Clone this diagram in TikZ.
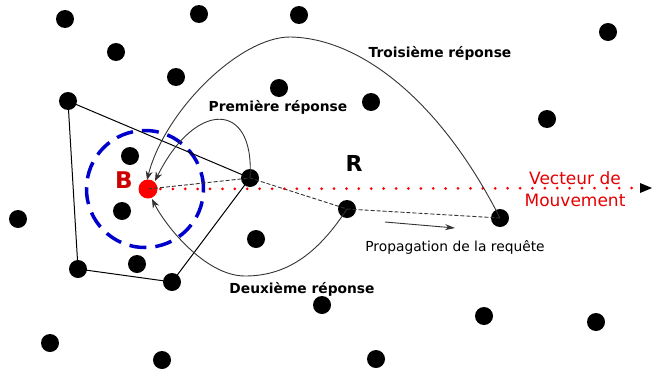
\documentclass[tikz,border=0pt]{standalone}
\usepackage{fontspec}
\setmainfont{DejaVu Sans}
\usetikzlibrary{arrows.meta}
\begin{document}
\begin{tikzpicture}[x=1pt,y=-1pt,
  dot/.style={circle,fill=black,minimum size=18pt,inner sep=0pt},
  bdot/.style={circle,fill=red,minimum size=19pt,inner sep=0pt},
  rep/.style={font=\fontsize{13.8}{16}\selectfont\bfseries},
  resp/.style={draw=black!80,line width=0.9pt,-{Stealth[length=9pt,width=7pt]}},
  poly/.style={draw=black,line width=1pt},
  dsh/.style={draw=black!80,line width=0.9pt,dash pattern=on 4pt off 2pt}]
\useasboundingbox (0,0) rectangle (652,372);
% background dots
\foreach \n/\x/\y in {a/65/19,b/199/14,c/299/15,d/608/32,e/116/52,f/176/77,g/279/88,h/371/102,i/547/119,j/130/156,k/18/219,l/122/211,m/256/239,n/137/264,o/322/305,p/484/316,q/596/322,r/50/343,s/162/360,t/376/359}
  \node[dot] (\n) at (\x,\y) {};
% polygon nodes
\node[dot] (p1) at (68,101) {};
\node[dot] (p2) at (250,178) {};
\node[dot] (p3) at (172,282) {};
\node[dot] (p4) at (78,269) {};
\node[dot] (r1) at (347,209) {};
\node[dot] (r2) at (500,218) {};
% blue circle
\node[circle,draw=blue!80!black,line width=3.5pt,dash pattern=on 17pt off 9pt,minimum size=117pt,inner sep=0pt] (zone) at (145,189) {};
\node[bdot] (B) at (148,189) {};
\draw[poly] (p1.center) -- (p2.center) -- (p3.center) -- (p4.center) -- cycle;
\draw[dsh] (B.center) -- (p2.center) -- (r1.center) -- (r2.center);
% movement vector
\coordinate (vend) at (641,188);
\coordinate (vtip) at (652,188);
\draw[red,line width=3pt,line cap=round,dash pattern=on 0pt off 12.4pt] (B.center) -- (vend);
\fill[black] (vtip) -- ++(-12,-5) -- ++(0,10) -- cycle;
% responses
\coordinate (t1) at (155,181);
\coordinate (t3) at (147,180);
\coordinate (t2) at (152,199);
\draw[resp] (p2.center) .. controls (255,100) and (195,100) .. (t1);
\draw[resp] (r2.center) .. controls (440,100) and (360,38) .. (290,37) .. controls (240,37) and (165,110) .. (t3);
\draw[resp] (r1.center) .. controls (320,250) and (290,276) .. (245,276) .. controls (205,276) and (165,225) .. (t2);
% propagation arrow
\coordinate (pa) at (385,222);
\coordinate (pb) at (455,228);
\draw[black!80,line width=0.9pt,-{Stealth[length=10pt,width=6pt]}] (pa) -- (pb);
% labels
\node[rep] (l3) at (440,53) {Troisième réponse};
\node[rep] (l1) at (278,107) {Première réponse};
\node[rep] (l2) at (302,289) {Deuxième réponse};
\node[font=\fontsize{22}{24}\selectfont\bfseries] (R) at (354,163) {R};
\node[font=\fontsize{23}{24}\selectfont\bfseries,text=red!80!black] (Bl) at (124,180) {B};
\node[font=\fontsize{17}{22}\selectfont,text=red!90!black,align=center] (vl) at (575,189) {Vecteur de\\Mouvement};
\node[font=\fontsize{13.8}{16}\selectfont] (pl) at (455,247) {Propagation de la requête};
\end{tikzpicture}
\end{document}
